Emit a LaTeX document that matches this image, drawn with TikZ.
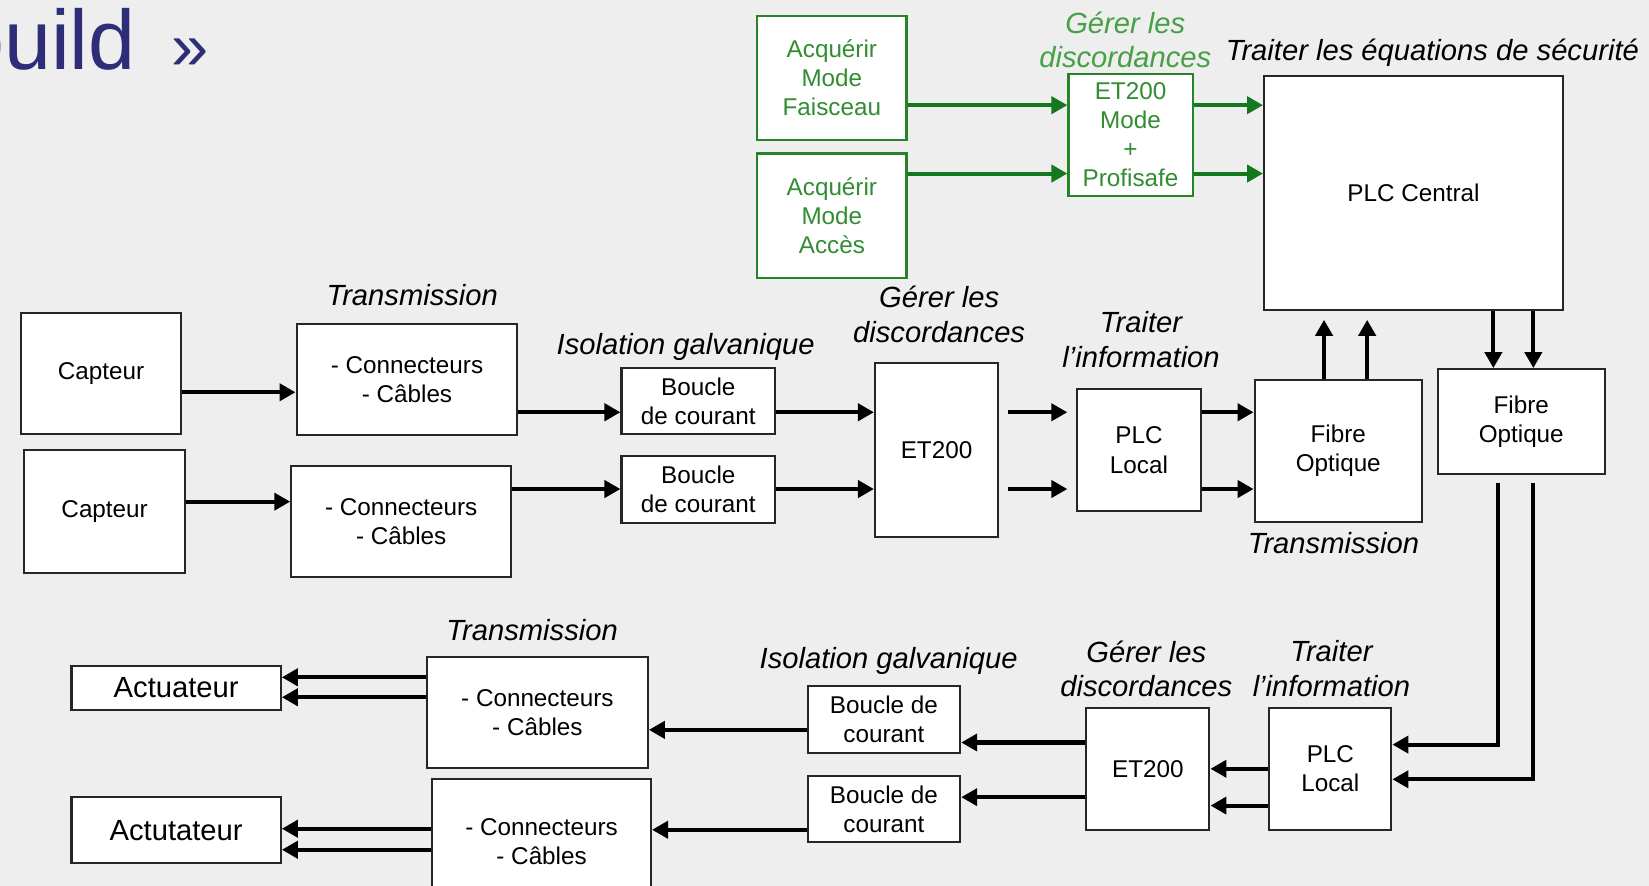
\documentclass[tikz,border=0pt]{standalone}
\usepackage{fontspec}
\usepackage{tikz}
\usetikzlibrary{arrows.meta}
\setmainfont{Liberation Sans}
\definecolor{fondgris}{RGB}{238,238,238}
\definecolor{bleutitre}{RGB}{45,45,120}
\definecolor{vertbord}{RGB}{40,130,40}
\definecolor{verttexte}{RGB}{50,140,50}
\definecolor{vertlabel}{RGB}{70,160,70}
\definecolor{vertfleche}{RGB}{20,120,30}
\newcommand{\px}{0.021034cm}
\newcommand{\boxfont}{\fontsize{13.8pt}{16.6pt}\selectfont}
\newcommand{\labelfont}{\fontsize{16.6pt}{19.7pt}\selectfont\itshape}
\tikzset{
  blocbox/.style={draw=black!85, line width=1.2pt, fill=white, inner sep=0pt,
    align=center, font=\boxfont},
  vertbox/.style={blocbox, draw=vertbord, text=verttexte},
  taille/.style 2 args={minimum width=#1*\px, minimum height=#2*\px},
  etiquette/.style={font=\labelfont, align=center, inner sep=0pt},
  fleche/.style={line width=2.3pt, -{Triangle[length=0.32cm,width=0.34cm]}},
  flechev/.style={fleche, draw=vertfleche}
}

\begin{document}
\begin{tikzpicture}[x=\px, y=-\px]
% Background and page size
\fill[fondgris] (0,0) rectangle (1568,842);
\useasboundingbox (0,0) rectangle (1568,842);
% Title (cut at the left edge)
\node[anchor=base west, inner sep=0pt, text=bleutitre,
  font=\fontsize{48pt}{50pt}\selectfont] (titre) at (-41,66) {build\hspace{0.72cm}{\fontsize{38pt}{40pt}\selectfont »}};

% Safety part (green)
\node[vertbox, taille={142}{118}] (acqfais) at (791,74) {Acquérir\\Mode\\Faisceau};
\node[vertbox, taille={142}{118}] (acqacces) at (791,205) {Acquérir\\Mode\\Accès};
\node[vertbox, taille={118}{116}] (etprofi) at (1075,128) {ET200\\Mode\\+\\Profisafe};
\node[blocbox, taille={284}{223}] (central) at (1344,183.5) {PLC Central};
\node[etiquette, text=vertlabel] (lbldiscv) at (1070,38) {Gérer les\\discordances};
\node[etiquette] (lblequ) at (1362,50) {Traiter les équations de sécurité};

% Acquisition chain
\node[blocbox, taille={152}{115}] (capt1) at (96,355.5) {Capteur};
\node[blocbox, taille={153}{117}] (capt2) at (99.5,486.5) {Capteur};
\node[blocbox, taille={210}{106}] (conn1) at (387,361) {- Connecteurs\\- Câbles};
\node[blocbox, taille={209}{106}] (conn2) at (381.5,496) {- Connecteurs\\- Câbles};
\node[blocbox, taille={146}{63}] (boucle1) at (664,381.5) {Boucle\\de courant};
\node[blocbox, taille={146}{63}] (boucle2) at (664,465.5) {Boucle\\de courant};
\node[blocbox, taille={117}{166}] (etin) at (890.5,428) {ET200};
\node[blocbox, taille={118}{116}] (plcin) at (1083,428) {PLC\\Local};
\node[blocbox, taille={159}{135}] (fibin) at (1272.5,428.5) {Fibre\\Optique};
\node[blocbox, taille={159}{100}] (fibout) at (1446.5,401) {Fibre\\Optique};
\node[etiquette] (lbltr1) at (392,281) {Transmission};
\node[etiquette] (lboiso1) at (652,330) {Isolation galvanique};
\node[etiquette] (lbldisc1) at (893,299) {Gérer les\\discordances};
\node[etiquette] (lbltrait1) at (1085,323) {Traiter\\l'information};
\node[etiquette] (lbltr2) at (1268,516) {Transmission};

% Output chain
\node[blocbox, taille={116}{116}] (plcout) at (1265,731) {PLC\\Local};
\node[blocbox, taille={117}{116}] (etout) at (1091.5,731) {ET200};
\node[blocbox, taille={145}{64}] (boucle3) at (840.5,684) {Boucle de\\courant};
\node[blocbox, taille={145}{63}] (boucle4) at (840.5,769.5) {Boucle de\\courant};
\node[blocbox, taille={210}{105}] (conn3) at (511,677.5) {- Connecteurs\\- Câbles};
\node[blocbox, taille={208}{119}] (conn4) at (515,800.5) {- Connecteurs\\- Câbles};
\node[blocbox, taille={199}{42}, font=\fontsize{16.6pt}{19pt}\selectfont] (act1) at (167.5,654) {Actuateur};
\node[blocbox, taille={199}{63}, font=\fontsize{16.6pt}{19pt}\selectfont] (act2) at (167.5,789.5) {Actutateur};
\node[etiquette] (lbltrait2) at (1266,636) {Traiter\\l'information};
\node[etiquette] (lbldisc2) at (1090,636) {Gérer les\\discordances};
\node[etiquette] (lboiso2) at (845,628) {Isolation galvanique};
\node[etiquette] (lbltr3) at (506,599) {Transmission};

% Green arrows
\draw[flechev] (acqfais.east |- 0,100) -- (etprofi.west |- 0,100);
\draw[flechev] (acqacces.east |- 0,165) -- (etprofi.west |- 0,165);
\draw[flechev] (etprofi.east |- 0,100) -- (central.west |- 0,100);
\draw[flechev] (etprofi.east |- 0,165) -- (central.west |- 0,165);

% Acquisition arrows
\draw[fleche] (capt1.east |- 0,373) -- (conn1.west |- 0,373);
\draw[fleche] (capt2.east |- 0,477) -- (conn2.west |- 0,477);
\draw[fleche] (conn1.east |- 0,392) -- (boucle1.west |- 0,392);
\draw[fleche] (conn2.east |- 0,465) -- (boucle2.west |- 0,465);
\draw[fleche] (boucle1.east |- 0,392) -- (etin.west |- 0,392);
\draw[fleche] (boucle2.east |- 0,465) -- (etin.west |- 0,465);
\draw[fleche, shorten <=0.17cm, shorten >=0.17cm] (etin.east |- 0,392) -- (plcin.west |- 0,392);
\draw[fleche, shorten <=0.17cm, shorten >=0.17cm] (etin.east |- 0,465) -- (plcin.west |- 0,465);
\draw[fleche] (plcin.east |- 0,392) -- (fibin.west |- 0,392);
\draw[fleche] (plcin.east |- 0,465) -- (fibin.west |- 0,465);
\draw[fleche, shorten >=0.17cm] (fibin.north -| 1259,0) -- (central.south -| 1259,0);
\draw[fleche, shorten >=0.17cm] (fibin.north -| 1300,0) -- (central.south -| 1300,0);
\draw[fleche] (central.south -| 1420,0) -- (fibout.north -| 1420,0);
\draw[fleche] (central.south -| 1458,0) -- (fibout.north -| 1458,0);

% Output arrows
\draw[fleche, shorten <=0.15cm] (fibout.south -| 1424,0) |- (plcout.east |- 0,708);
\draw[fleche, shorten <=0.15cm] (fibout.south -| 1458,0) |- (plcout.east |- 0,741);
\draw[fleche] (plcout.west |- 0,731) -- (etout.east |- 0,731);
\draw[fleche] (plcout.west |- 0,766) -- (etout.east |- 0,766);
\draw[fleche] (etout.west |- 0,706) -- (boucle3.east |- 0,706);
\draw[fleche] (etout.west |- 0,758) -- (boucle4.east |- 0,758);
\draw[fleche] (boucle3.west |- 0,694) -- (conn3.east |- 0,694);
\draw[fleche] (boucle4.west |- 0,789) -- (conn4.east |- 0,789);
\draw[fleche] (conn3.west |- 0,644) -- (act1.east |- 0,644);
\draw[fleche] (conn3.west |- 0,663) -- (act1.east |- 0,663);
\draw[fleche] (conn4.west |- 0,788) -- (act2.east |- 0,788);
\draw[fleche] (conn4.west |- 0,808) -- (act2.east |- 0,808);
\end{tikzpicture}
\end{document}
